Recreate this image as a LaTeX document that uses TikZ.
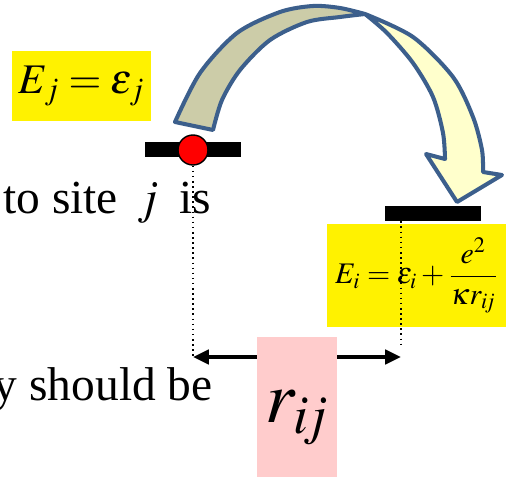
\documentclass[tikz,border=0pt]{standalone}
\usepackage{amsmath}
\usepackage{mathptmx}
\usepackage[no-math]{fontspec}
\setmainfont{Liberation Serif}
\usetikzlibrary{arrows.meta}
\definecolor{bandblue}{HTML}{3C5F8C}
\definecolor{backface}{HTML}{CCCCA8}
\definecolor{frontface}{HTML}{FFFFCC}
\definecolor{rosebox}{HTML}{FFCCCC}
\begin{document}
\begin{tikzpicture}[x=0.02cm,y=-0.02cm,
  ybox/.style={fill=yellow,inner sep=0,minimum width=2.78cm,minimum height=1.4cm},
  level/.style={fill=black,inner sep=0,minimum width=1.92cm,minimum height=0.3cm},
  guide/.style={dotted,line width=0.9pt},
  dimarrow/.style={{Triangle[length=9pt,width=8pt]}-{Triangle[length=9pt,width=8pt]},line width=2.3pt},
  band/.style={draw=bandblue,line width=2.3pt,line join=round}]
\clip (0,0) rectangle (506,476);
\node[anchor=base west,inner sep=0,font=\fontsize{27}{30}\selectfont] (line1) at (3,213) {to site \,$j$\, is};
\node[anchor=base east,inner sep=0,font=\fontsize{27}{30}\selectfont] (line2) at (213,400) {y should be};
\node[ybox] (ej) at (81.5,86) {\fontsize{24}{28}\selectfont$E_j=\varepsilon_j$};
\node[ybox,minimum width=3.58cm,minimum height=2.06cm] (ei) at (416.5,275.5) {\fontsize{17}{20}\selectfont$E_i=\varepsilon_i+\dfrac{e^2}{\kappa r_{i\!j}}$};
\node[level] (sitej) at (193,149.5) {};
\node[level] (sitei) at (433,213.5) {};
\node[circle,fill=red,draw=black,line width=0.8pt,minimum size=0.6cm,inner sep=0] (electron) at (193,150) {};
\draw[band,fill=backface] plot[smooth] coordinates {(175,122) (200,73) (237,33) (280,12) (313,6) (340,8) (365,14)}
  -- plot[smooth] coordinates {(365,14) (340,17) (307,22) (270,40) (240,70) (222,100) (213,130)} -- cycle;
\draw[band,fill=frontface] plot[smooth] coordinates {(365,14) (413,37) (453,77) (473,117) (482,150) (483,172)}
  -- (502,175) -- (457,202) -- (426,154) -- (445,159)
  -- plot[smooth] coordinates {(445,159) (443,133) (433,97) (413,63) (387,33) (365,14)} -- cycle;
\coordinate (lj) at (193,357);
\coordinate (li) at (401,357);
\draw[guide] (electron.south) -- (lj);
\draw[guide] (sitei.south -| li) -- ++(0,127);
\draw[dimarrow] (lj) -- (li);
\node[fill=rosebox,inner sep=0,minimum width=1.6cm,minimum height=2.86cm] (rij) at (297,408.5) {};
\node[font=\fontsize{42}{46}\selectfont] (rlabel) at (297,418) {$r_{i\!j}$};
\end{tikzpicture}
\end{document}
